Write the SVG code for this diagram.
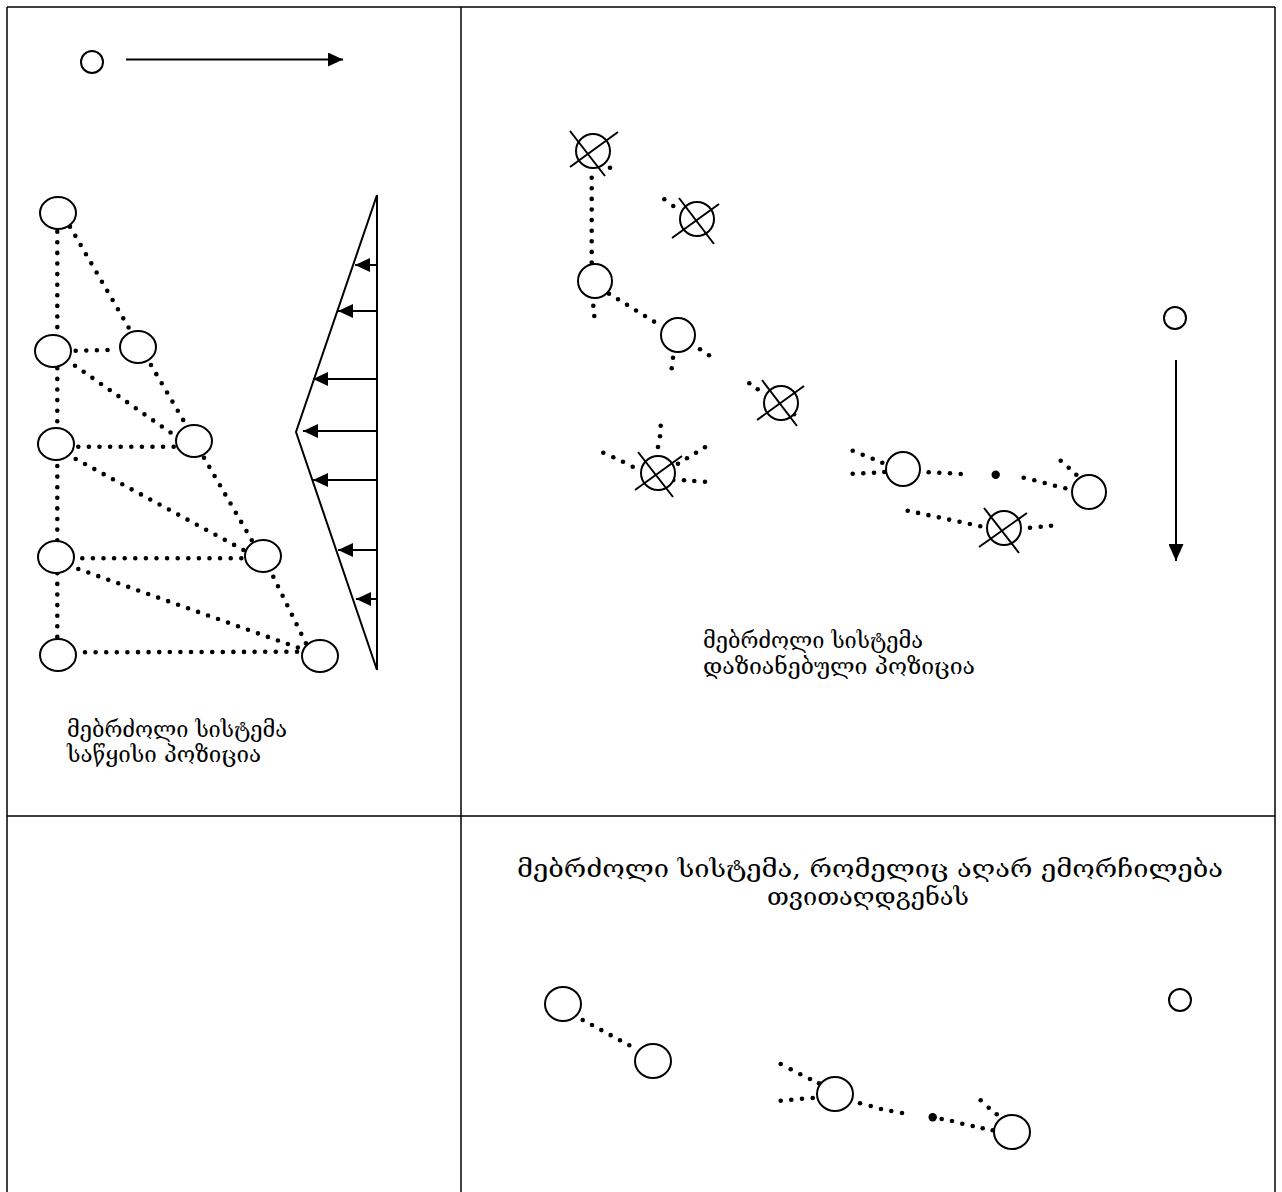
<svg xmlns="http://www.w3.org/2000/svg" width="1282" height="1192" viewBox="0 0 1282 1192">
<style>
.frame{stroke:#000;stroke-width:1.5;fill:none}
.n{fill:#fff;stroke:#000;stroke-width:2}
.x{stroke:#000;stroke-width:2}
.dl{stroke:#000;stroke-width:4.6;stroke-linecap:round;stroke-dasharray:0 10.6;fill:none}
.d{fill:#000}
.ar{stroke:#000;stroke-width:2;fill:none}
.t{font-family:"DejaVu Serif","DejaVu Sans",serif;fill:#000}
.s{font-size:22px}
.big{font-size:24px}
</style>
<defs>
<marker id="ah" viewBox="0 0 15 14" refX="15" refY="7" markerWidth="15" markerHeight="14" markerUnits="userSpaceOnUse" orient="auto">
<path d="M0,0 L15,7 L0,14 z" fill="#000"/>
</marker>
<marker id="ah2" viewBox="0 0 17 15" refX="17" refY="7.5" markerWidth="17" markerHeight="15" markerUnits="userSpaceOnUse" orient="auto">
<path d="M0,0 L17,7.5 L0,15 z" fill="#000"/>
</marker>
</defs>
<rect width="1282" height="1192" fill="#fff"/>
<g id="frame" class="frame">
<line x1="7" y1="7" x2="1275" y2="7"/>
<line x1="7" y1="7" x2="7" y2="1192"/>
<line x1="1275" y1="7" x2="1275" y2="1192"/>
<line x1="461" y1="7" x2="461" y2="1192"/>
<line x1="7" y1="816" x2="1275" y2="816"/>
</g>
<g id="connectors">
<line class="ar" x1="126" y1="59.5" x2="343" y2="59.5" marker-end="url(#ah)"/>
<line class="ar" x1="1176" y1="360" x2="1176" y2="561" marker-end="url(#ah2)"/>
<g id="wedge">
<polyline class="ar" points="377,195 296,432 377,670"/>
<line class="ar" x1="377" y1="195" x2="377" y2="670"/>
<line class="ar" x1="376" y1="265" x2="355" y2="265" marker-end="url(#ah)"/>
<line class="ar" x1="376" y1="311" x2="338" y2="311" marker-end="url(#ah)"/>
<line class="ar" x1="376" y1="379" x2="313" y2="379" marker-end="url(#ah)"/>
<line class="ar" x1="376" y1="431" x2="303" y2="431" marker-end="url(#ah)"/>
<line class="ar" x1="376" y1="480" x2="313" y2="480" marker-end="url(#ah)"/>
<line class="ar" x1="376" y1="550" x2="338" y2="550" marker-end="url(#ah)"/>
<line class="ar" x1="376" y1="599" x2="356" y2="599" marker-end="url(#ah)"/>
</g>
<g id="net-left">
<line class="dl" x1="57.3" y1="231.7" x2="57.3" y2="328.2"/>
<line class="dl" x1="57.3" y1="368.3" x2="57.3" y2="424.8"/>
<line class="dl" x1="57.3" y1="466" x2="57.3" y2="541.2"/>
<line class="dl" x1="57.3" y1="573.3" x2="57.3" y2="638.2"/>
<line class="dl" x1="70" y1="226.7" x2="129.3" y2="328.8"/>
<line class="dl" x1="75.7" y1="350.7" x2="118" y2="349.7"/>
<line class="dl" x1="75" y1="365.7" x2="172" y2="433.6"/>
<line class="dl" x1="151" y1="365" x2="183.5" y2="420.5"/>
<line class="dl" x1="78.3" y1="446.7" x2="175.5" y2="446.7"/>
<line class="dl" x1="75.7" y1="459" x2="245.3" y2="551"/>
<line class="dl" x1="204" y1="457.7" x2="252.5" y2="541.5"/>
<line class="dl" x1="82.3" y1="558.3" x2="243.8" y2="558.3"/>
<line class="dl" x1="78.3" y1="569" x2="300.3" y2="648.5"/>
<line class="dl" x1="273.3" y1="576.7" x2="310.2" y2="652.2"/>
<line class="dl" x1="85" y1="652.3" x2="310.5" y2="651.7"/>
</g>
<g id="dots-right" class="d">
<line class="dl" x1="591.7" y1="177.7" x2="591.7" y2="263.2"/>
<circle cx="610" cy="167.7" r="2.3"/>
<circle cx="664.3" cy="199.3" r="2.3"/><circle cx="673.3" cy="206" r="2.3"/>
<circle cx="593.3" cy="305.7" r="2.3"/><circle cx="594.3" cy="316" r="2.3"/>
<line class="dl" x1="609" y1="293.7" x2="655" y2="322.2"/>
<circle cx="700" cy="349.3" r="2.3"/><circle cx="709" cy="355.3" r="2.3"/>
<circle cx="673" cy="357.7" r="2.3"/><circle cx="671.7" cy="368.3" r="2.3"/>
<circle cx="749.3" cy="383.3" r="2.3"/><circle cx="757.7" cy="389.3" r="2.3"/><circle cx="794" cy="414.3" r="2.3"/>
<circle cx="660.7" cy="425.7" r="2.3"/><circle cx="660" cy="436.3" r="2.3"/><circle cx="658" cy="447" r="2.3"/>
<circle cx="603.3" cy="452.7" r="2.3"/><circle cx="613.3" cy="457.3" r="2.3"/><circle cx="623" cy="461.7" r="2.3"/><circle cx="632.7" cy="466.7" r="2.3"/>
<circle cx="678" cy="463.7" r="2.3"/><circle cx="687" cy="458.3" r="2.3"/><circle cx="696" cy="452.7" r="2.3"/><circle cx="705" cy="447.3" r="2.3"/>
<circle cx="673.3" cy="480" r="2.3"/><circle cx="684" cy="480.3" r="2.3"/><circle cx="694.3" cy="481" r="2.3"/><circle cx="705" cy="481.7" r="2.3"/>
<circle cx="852.7" cy="450.7" r="2.3"/><circle cx="862.7" cy="454.7" r="2.3"/><circle cx="872.7" cy="458.7" r="2.3"/><circle cx="882.3" cy="462.7" r="2.3"/>
<circle cx="852.7" cy="473.7" r="2.3"/><circle cx="863.3" cy="473.3" r="2.3"/><circle cx="874" cy="472.7" r="2.3"/><circle cx="884.3" cy="472" r="2.3"/>
<circle cx="928.7" cy="472.3" r="2.3"/><circle cx="939.3" cy="472.7" r="2.3"/><circle cx="950" cy="473.3" r="2.3"/><circle cx="960.7" cy="474" r="2.3"/>
<circle cx="995.7" cy="474.7" r="4.2"/>
<circle cx="1060.7" cy="460.7" r="2.3"/><circle cx="1068.7" cy="467.7" r="2.3"/><circle cx="1076.3" cy="474.7" r="2.3"/>
<circle cx="1023.7" cy="477.7" r="2.3"/><circle cx="1034.3" cy="480.3" r="2.3"/><circle cx="1044.7" cy="483" r="2.3"/><circle cx="1055" cy="485.7" r="2.3"/><circle cx="1065.3" cy="488.3" r="2.3"/>
<line class="dl" x1="907.7" y1="510.7" x2="981" y2="526.4"/>
<circle cx="1030" cy="527.7" r="2.3"/><circle cx="1040.7" cy="526.7" r="2.3"/><circle cx="1051" cy="525.7" r="2.3"/>
</g>
<g id="dots-bottom" class="d">
<line class="dl" x1="582.7" y1="1020" x2="630.3" y2="1045.8"/>
<circle cx="780.7" cy="1064" r="2.3"/><circle cx="790.7" cy="1069.3" r="2.3"/><circle cx="800.3" cy="1074.3" r="2.3"/><circle cx="810" cy="1079" r="2.3"/><circle cx="819" cy="1083.3" r="2.3"/>
<circle cx="780.7" cy="1100.7" r="2.3"/><circle cx="791.3" cy="1099.7" r="2.3"/><circle cx="802" cy="1098.7" r="2.3"/><circle cx="812.7" cy="1098" r="2.3"/>
<circle cx="860" cy="1103.3" r="2.3"/><circle cx="870.7" cy="1106" r="2.3"/><circle cx="881" cy="1109" r="2.3"/><circle cx="891.3" cy="1111" r="2.3"/><circle cx="902" cy="1113" r="2.3"/>
<circle cx="932.7" cy="1117.3" r="4.2"/>
<circle cx="941.7" cy="1119" r="2.3"/><circle cx="952" cy="1121" r="2.3"/><circle cx="962.3" cy="1123.7" r="2.3"/><circle cx="972.7" cy="1126" r="2.3"/><circle cx="982.7" cy="1128.3" r="2.3"/>
<circle cx="980.7" cy="1100.3" r="2.3"/><circle cx="988.7" cy="1107.7" r="2.3"/><circle cx="996.7" cy="1114.3" r="2.3"/><circle cx="992.7" cy="1130.3" r="2.3"/>
</g>
</g>
<g id="unit-top-left"><circle class="n" cx="92" cy="62" r="11"/></g>
<g id="n1"><ellipse class="n" cx="58" cy="213" rx="18" ry="16"/></g>
<g id="n2"><ellipse class="n" cx="53" cy="351" rx="18" ry="16"/></g>
<g id="n3"><ellipse class="n" cx="138" cy="347" rx="18" ry="16"/></g>
<g id="n4"><ellipse class="n" cx="56" cy="444" rx="18" ry="16"/></g>
<g id="n5"><ellipse class="n" cx="194" cy="441" rx="18" ry="16"/></g>
<g id="n6"><ellipse class="n" cx="56" cy="557" rx="18" ry="16"/></g>
<g id="n7"><ellipse class="n" cx="263" cy="556" rx="18" ry="16"/></g>
<g id="n8"><ellipse class="n" cx="58" cy="655" rx="18" ry="16"/></g>
<g id="n9"><ellipse class="n" cx="320" cy="656" rx="18" ry="16"/></g>
<g id="x1"><circle class="n" cx="593" cy="151" r="17" fill="none"/><line class="x" x1="570" y1="131" x2="605" y2="176"/><line class="x" x1="570" y1="167" x2="618" y2="132"/></g>
<g id="x2"><circle class="n" cx="697" cy="219" r="17"/><line class="x" x1="679" y1="198" x2="714" y2="244"/><line class="x" x1="672" y1="238" x2="719" y2="204"/></g>
<g id="c1"><circle class="n" cx="595" cy="281" r="17"/></g>
<g id="c2"><circle class="n" cx="678" cy="335" r="17"/></g>
<g id="x3"><circle class="n" cx="781" cy="403" r="17"/><line class="x" x1="762" y1="380" x2="797" y2="426"/><line class="x" x1="757" y1="420" x2="804" y2="386"/></g>
<g id="x4"><circle class="n" cx="658" cy="473" r="17"/><line class="x" x1="638" y1="452" x2="673" y2="497"/><line class="x" x1="635" y1="490" x2="682" y2="456"/></g>
<g id="c3"><circle class="n" cx="903" cy="469" r="17"/></g>
<g id="c4"><circle class="n" cx="1089" cy="492" r="17"/></g>
<g id="x5"><circle class="n" cx="1004" cy="528" r="17"/><line class="x" x1="984" y1="508" x2="1019" y2="553"/><line class="x" x1="979" y1="547" x2="1027" y2="513"/></g>
<g id="unit-right"><circle class="n" cx="1175" cy="318" r="11"/></g>
<g id="b1"><ellipse class="n" cx="563" cy="1004" rx="18" ry="17"/></g>
<g id="b2"><ellipse class="n" cx="653" cy="1061" rx="18" ry="17"/></g>
<g id="b3"><ellipse class="n" cx="835" cy="1094" rx="18" ry="17"/></g>
<g id="b4"><ellipse class="n" cx="1012" cy="1132" rx="18" ry="17"/></g>
<g id="unit-bottom"><circle class="n" cx="1180" cy="1000" r="11"/></g>
<g id="labels">
<text class="t s" x="67" y="737" textLength="220" lengthAdjust="spacingAndGlyphs">მებრძოლი სისტემა</text>
<text class="t s" x="67" y="762" textLength="194" lengthAdjust="spacingAndGlyphs">საწყისი პოზიცია</text>
<text class="t s" x="703" y="648" textLength="220" lengthAdjust="spacingAndGlyphs">მებრძოლი სისტემა</text>
<text class="t s" x="703" y="674" textLength="272" lengthAdjust="spacingAndGlyphs">დაზიანებული პოზიცია</text>
<text class="t big" x="517" y="877" textLength="706" lengthAdjust="spacingAndGlyphs">მებრძოლი სისტემა, რომელიც აღარ ემორჩილება</text>
<text class="t big" x="767" y="905" textLength="202" lengthAdjust="spacingAndGlyphs">თვითაღდგენას</text>
</g>
</svg>
